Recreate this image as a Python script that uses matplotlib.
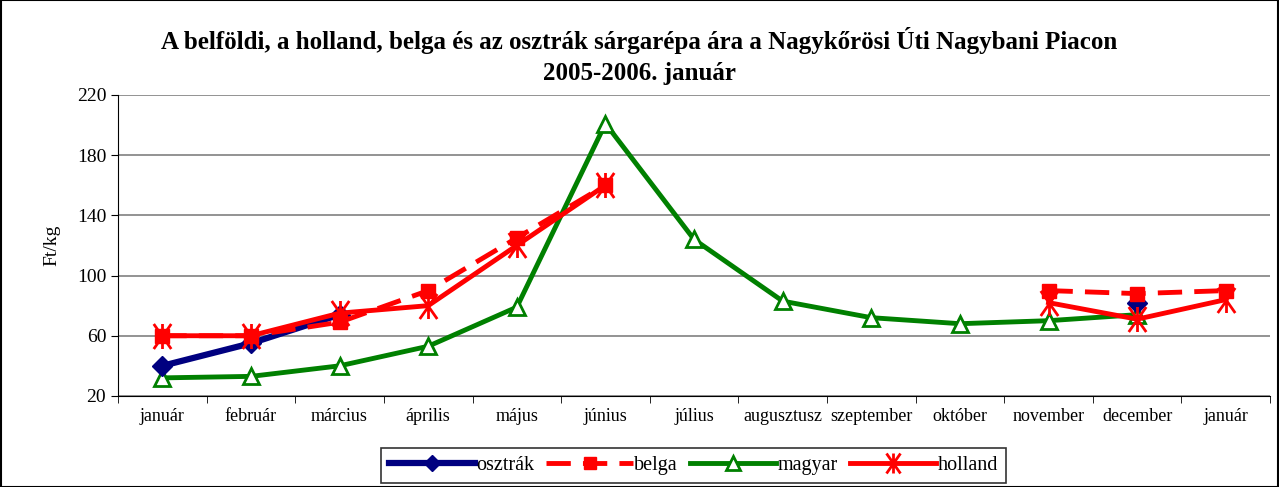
import numpy as np
import matplotlib.pyplot as plt
from matplotlib.path import Path

plt.rcParams['font.family'] = ['Liberation Serif', 'DejaVu Serif']

months = ["január", "február", "március", "április", "május", "június", "július",
          "augusztusz", "szeptember", "október", "november", "december", "január"]
nan = np.nan
osztrak = [40, 55, 74, nan, nan, nan, nan, nan, nan, nan, nan, 82, nan]
belga = [60, 60, 69, 90, 125, 160, nan, nan, nan, nan, 90, 88, 90]
magyar = [32, 33, 40, 53, 79, 201, 124, 83, 72, 68, 70, 74, nan]
holland = [60, 60, 75, 80, 120, 160, nan, nan, nan, nan, 82, 71, 84]

x = np.arange(len(months))

# asterisk marker: vertical bar plus a tall X
star = Path([(0, -1), (0, 1), (-0.7, -1), (0.7, 1), (-0.7, 1), (0.7, -1)],
            [Path.MOVETO, Path.LINETO, Path.MOVETO, Path.LINETO, Path.MOVETO, Path.LINETO])

fig = plt.figure(figsize=(12.79, 4.87), dpi=100)
ax = fig.add_axes([0.0923, 0.187, 0.9007, 0.618])

ax.plot(x, osztrak, color="#000080", lw=4.5, marker="D", ms=10, label="osztrák", zorder=3)
ax.plot(x, belga, color="#ff0000", lw=3.5, ls=(0, (5, 2.5)), marker="s", ms=10,
        label="belga", zorder=4)
ax.plot(x, magyar, color="#008000", lw=3.5, marker="^", ms=12, mfc="white",
        mew=2, label="magyar", zorder=2)
ax.plot(x, holland, color="#ff0000", lw=3.5, marker=star, ms=18, mew=2,
        label="holland", zorder=5)

ax.set_xlim(-0.5, 12.5)
ax.set_ylim(20, 220)
ax.set_yticks(np.arange(20, 221, 40))
ax.set_xticks(x)
ax.set_xticklabels(months, fontsize=13)
ax.set_xticks(np.arange(-0.5, 12.6, 1), minor=True)
ax.tick_params(axis="x", which="major", length=0, pad=9)
ax.tick_params(axis="x", which="minor", length=5)
ax.tick_params(axis="y", labelsize=14, length=5)
ax.grid(axis="y", color="#808080", lw=1.2)
ax.set_axisbelow(True)
for s in ["top", "right"]:
    ax.spines[s].set_visible(False)
ax.set_ylabel("Ft/kg", fontsize=14, labelpad=12)

fig.suptitle("A belföldi, a holland, belga és az osztrák sárgarépa ára a Nagykőrösi Úti Nagybani Piacon\n2005-2006. január",
             fontsize=18, fontweight="bold", y=0.945, linespacing=1.45)

handles, labels = ax.get_legend_handles_labels()
leg = fig.legend(handles, labels, loc="lower center", bbox_to_anchor=(0.542, -0.012),
                 ncol=4, frameon=True, fancybox=False, edgecolor="black",
                 fontsize=14.5, handlelength=4.3, handletextpad=0.05, columnspacing=0.6,
                 borderpad=0.4, markerscale=0.8)
leg.get_frame().set_linewidth(1.2)

fig.patches.append(plt.Rectangle((0.001, 0.001), 0.998, 0.998, transform=fig.transFigure,
                                 fill=False, edgecolor="black", lw=1.5))

plt.savefig("out.png", dpi=100)
